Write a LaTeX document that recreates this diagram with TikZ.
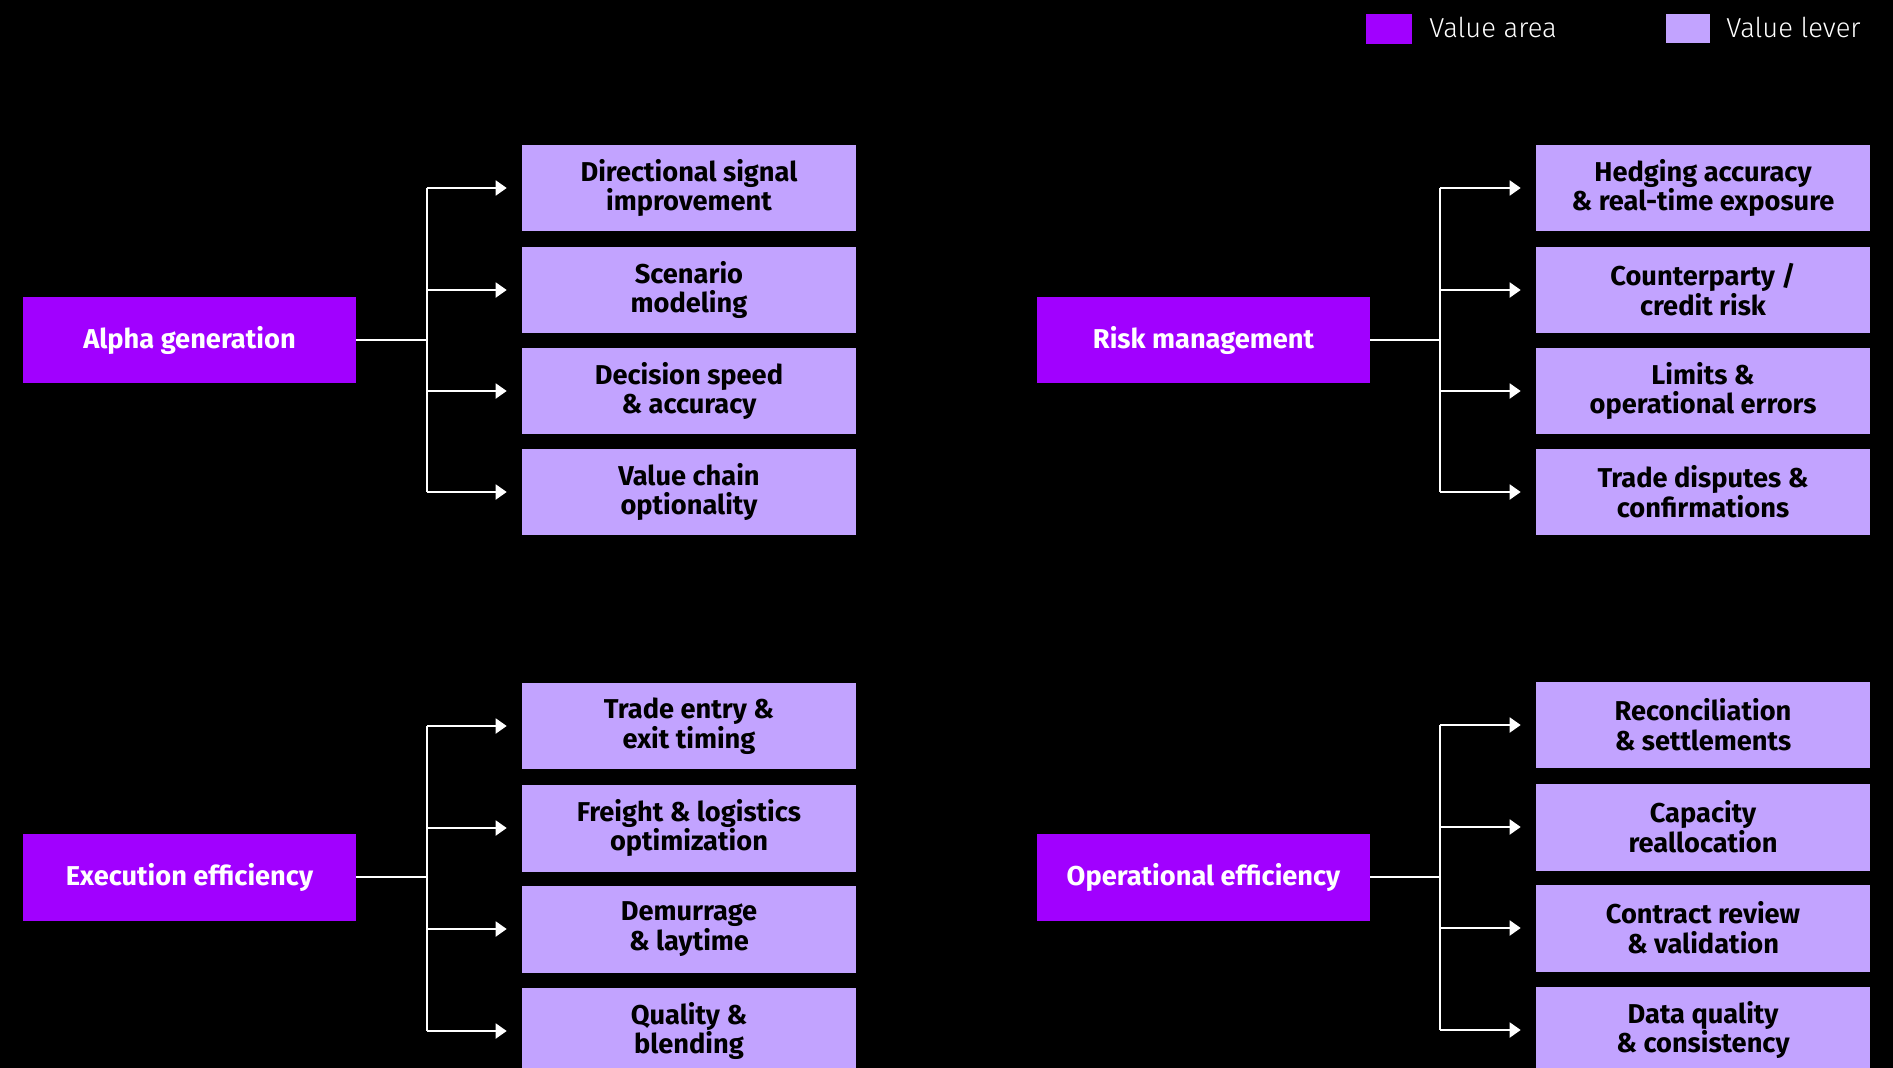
\documentclass[tikz,border=0pt]{standalone}
\usepackage{fontspec}
\setmainfont{Fira Sans}
\newfontfamily\legendfont{Fira Sans Light}
\usetikzlibrary{arrows.meta, positioning}
\definecolor{AreaPurple}{HTML}{A100FF}
\definecolor{LeverLilac}{HTML}{C2A3FF}

\begin{document}
\begin{tikzpicture}[
    x=0.02cm, y=-0.02cm,
    area/.style={fill=AreaPurple, text=white, font=\bfseries\fontsize{15.5}{17}\selectfont,
                 minimum width=6.66cm, minimum height=1.74cm, align=center, inner sep=0pt},
    lever/.style={fill=LeverLilac, text=black, font=\bfseries\fontsize{15.5}{17}\selectfont,
                  minimum width=6.68cm, minimum height=1.74cm, align=center, inner sep=0pt},
    key/.style={text=white, font=\legendfont\fontsize{15.6}{18}\selectfont, inner sep=0pt, anchor=base west},
    link/.style={white, line width=1.1pt},
    flow/.style={-{Triangle[length=2.2mm, width=3mm]}, white, line width=1.1pt, shorten >=0.3cm},
]

\useasboundingbox (0,0) rectangle (1893,1068);
\clip (0,0) rectangle (1893,1068);
\fill[black] (0,0) rectangle (1893,1068);

% --- legend ---
\fill[AreaPurple] (1366,14) rectangle (1412,44);
\node[key] (keyarea) at (1429,38) {Value area};
\fill[LeverLilac] (1666,14) rectangle (1710,43);
\node[key] (keylever) at (1726,38) {Value lever};

% --- alpha generation ---
\node[area] (alpha) at (189.5,340) {Alpha generation};
\node[lever] (alpha1) at (689,188) {Directional signal\\improvement};
\node[lever] (alpha2) at (689,290) {Scenario\\modeling};
\node[lever] (alpha3) at (689,391) {Decision speed\\\& accuracy};
\node[lever] (alpha4) at (689,492) {Value chain\\optionality};
\coordinate (alphatrunk) at (427,340);

% --- risk management ---
\node[area] (risk) at (1203.5,340) {Risk management};
\node[lever] (risk1) at (1703,188) {Hedging accuracy\\\& real-time exposure};
\node[lever] (risk2) at (1703,290) {Counterparty /\\credit risk};
\node[lever] (risk3) at (1703,391) {Limits \&\\operational errors};
\node[lever] (risk4) at (1703,492) {Trade disputes \&\\confirmations};
\coordinate (risktrunk) at (1440,340);

% --- execution efficiency ---
\node[area] (exec) at (189.5,877) {Execution efficiency};
\node[lever] (exec1) at (689,726) {Trade entry \&\\exit timing};
\node[lever] (exec2) at (689,828) {Freight \& logistics\\optimization};
\node[lever] (exec3) at (689,929) {Demurrage\\\& laytime};
\node[lever] (exec4) at (689,1031) {Quality \&\\blending};
\coordinate (exectrunk) at (427,877);

% --- operational efficiency ---
\node[area] (oper) at (1203.5,877) {Operational efficiency};
\node[lever] (oper1) at (1703,725) {Reconciliation\\\& settlements};
\node[lever] (oper2) at (1703,827) {Capacity\\reallocation};
\node[lever] (oper3) at (1703,928) {Contract review\\\& validation};
\node[lever] (oper4) at (1703,1030) {Data quality\\\& consistency};
\coordinate (opertrunk) at (1440,877);

% --- connectors ---
\foreach \grp in {alpha, risk, exec, oper}{
    \draw[link] (\grp.east) -- (\grp trunk);
    \draw[link] (\grp trunk |- \grp1) -- (\grp trunk |- \grp4);
    \foreach \i in {1,...,4}
        \draw[flow] (\grp trunk |- \grp\i) -- (\grp\i.west);
}

\end{tikzpicture}
\end{document}
